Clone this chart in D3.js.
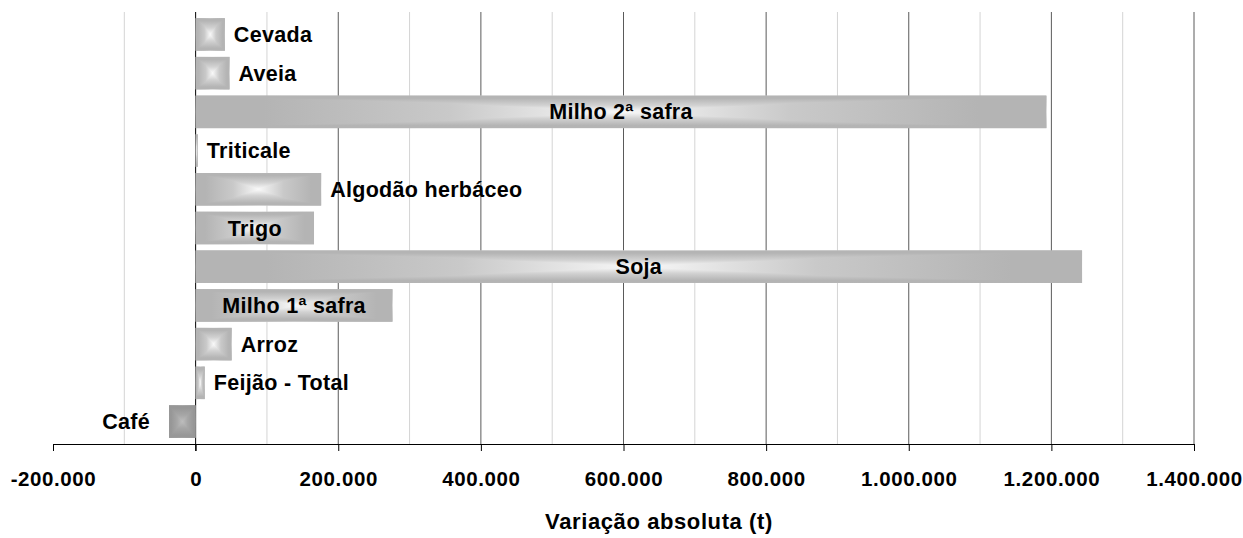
<!DOCTYPE html>
<html>
<head>
<meta charset="utf-8">
<script src="https://cdn.jsdelivr.net/npm/d3@7"></script>
<style>
  body { margin: 0; background: #ffffff; }
  svg text { font-family: "Liberation Sans", Arial, sans-serif; font-weight: bold; fill: #000; }
</style>
</head>
<body>
<div id="chart"></div>
<script>
//categories from top to bottom and their absolute variation (t)
var categories = ["Cevada", "Aveia", "Milho 2ª safra", "Triticale", "Algodão herbáceo", "Trigo",
  "Soja", "Milho 1ª safra", "Arroz", "Feijão - Total", "Café"];
var values = [41000, 47500, 1193000, 3000, 176000, 166000, 1243000, 276000, 50500, 12800, -37300];
var tickValues = [-200000, 0, 200000, 400000, 600000, 800000, 1000000, 1200000, 1400000];
var minorValues = [-100000, 100000, 300000, 500000, 700000, 900000, 1100000, 1300000];
var axisTitle = "Variação absoluta (t)";

var data = categories.map(function (c, i) { return {name: c, value: values[i]}; });

var width = 1243, height = 538;
var margin = {top: 12, right: 49, bottom: 94, left: 53};

var svg = d3.select("#chart").append("svg")
  .attr("width", width)
  .attr("height", height);

var hx = d3.scaleLinear()
  .domain([-200000, 1400000])
  .range([margin.left, width - margin.right]);

var hy = d3.scaleBand()
  .domain(categories)
  .range([margin.top, height - margin.bottom])
  .padding(0.16);

var numFormat = d3.formatLocale({decimal: ",", thousands: ".", grouping: [3], currency: ["", ""], minus: "-"}).format(",d");

//gradients, horizontal and vertical, combined with darken = rectangular gradient from center
var defs = svg.append("defs");
function grad(id, horizontal, edge, mid, centre) {
  var g = defs.append("linearGradient").attr("id", id)
    .attr("x1", 0).attr("y1", 0)
    .attr("x2", horizontal ? 1 : 0).attr("y2", horizontal ? 0 : 1);
  [[0, edge], [0.08, edge], [0.3, mid], [0.5, centre], [0.7, mid], [0.92, edge], [1, edge]]
    .forEach(function (s) { g.append("stop").attr("offset", s[0]).attr("stop-color", s[1]); });
}
grad("gh", true, "#b4b4b4", "#c9c9c9", "#f8f8f8");
grad("gv", false, "#b4b4b4", "#d2d2d2", "#fbfbfb");
grad("nh", true, "#979797", "#a6a6a6", "#bdbdbd");
grad("nv", false, "#979797", "#a6a6a6", "#bdbdbd");

//gridlines
var y0 = margin.top, y1 = height - margin.bottom;
svg.append("g").selectAll("line")
  .data(minorValues)
  .enter().append("line")
  .attr("x1", function (d) { return hx(d); }).attr("x2", function (d) { return hx(d); })
  .attr("y1", y0).attr("y2", y1)
  .attr("stroke", "#d4d4d4").attr("stroke-width", 1);

svg.append("g").selectAll("line")
  .data(tickValues.filter(function (d) { return d > -200000 && d != 0; }))
  .enter().append("line")
  .attr("x1", function (d) { return hx(d); }).attr("x2", function (d) { return hx(d); })
  .attr("y1", y0).attr("y2", y1)
  .attr("stroke", "#5a5a5a").attr("stroke-width", 1);

//vertical axis at zero
svg.append("line")
  .attr("x1", hx(0)).attr("x2", hx(0))
  .attr("y1", y0).attr("y2", y1 + 7)
  .attr("stroke", "#000").attr("stroke-width", 1);

//bottom axis
var xAxis = d3.axisBottom(hx)
  .tickValues(tickValues)
  .tickSize(7)
  .tickPadding(20)
  .tickFormat(numFormat);

var gx = svg.append("g")
  .attr("class", "x axis")
  .attr("transform", "translate(0," + y1 + ")")
  .call(xAxis);
gx.select(".domain").attr("stroke", "#000").attr("d", "M" + hx(-200000) + ",0.5H" + hx(1400000));
gx.selectAll(".tick line").attr("stroke", "#000");
gx.selectAll(".tick text")
  .style("font-size", "20.5px")
  .style("font-family", "'Liberation Sans', Arial, sans-serif")
  .style("font-weight", "bold")
  .attr("letter-spacing", "0.6px");

//bars
var bars = svg.append("g").attr("class", "bars")
  .selectAll("g")
  .data(data)
  .enter().append("g")
  .style("isolation", "isolate");

bars.append("rect")
  .attr("x", function (d) { return hx(Math.min(0, d.value)); })
  .attr("y", function (d) { return hy(d.name); })
  .attr("width", function (d) { return Math.abs(hx(d.value) - hx(0)); })
  .attr("height", hy.bandwidth())
  .attr("fill", function (d) { return d.value < 0 ? "url(#nh)" : "url(#gh)"; });

bars.append("rect")
  .attr("x", function (d) { return hx(Math.min(0, d.value)); })
  .attr("y", function (d) { return hy(d.name); })
  .attr("width", function (d) { return Math.abs(hx(d.value) - hx(0)); })
  .attr("height", hy.bandwidth())
  .attr("fill", function (d) { return d.value < 0 ? "url(#nv)" : "url(#gv)"; })
  .style("mix-blend-mode", "darken");

//labels, centred in the bar when they fit, outside the end otherwise
var labels = svg.append("g").attr("class", "labels")
  .selectAll("text")
  .data(data)
  .enter().append("text")
  .attr("y", function (d) { return hy(d.name) + hy.bandwidth() / 2 + 7.5; })
  .style("font-size", "21.5px")
  .attr("letter-spacing", "0.3px")
  .text(function (d) { return d.name; });

labels.each(function (d) {
  var w = this.getComputedTextLength();
  var barW = Math.abs(hx(d.value) - hx(0));
  var t = d3.select(this);
  if (w + 16 < barW) {
    t.attr("x", (hx(0) + hx(d.value)) / 2).attr("text-anchor", "middle");
  } else if (d.value < 0) {
    t.attr("x", hx(d.value) - 19).attr("text-anchor", "end");
  } else {
    t.attr("x", hx(d.value) + 9).attr("text-anchor", "start");
  }
});

//axis title
svg.append("text")
  .attr("x", 659)
  .attr("y", 529)
  .attr("text-anchor", "middle")
  .style("font-size", "22px")
  .attr("letter-spacing", "0.6px")
  .text(axisTitle);
</script>
</body>
</html>
